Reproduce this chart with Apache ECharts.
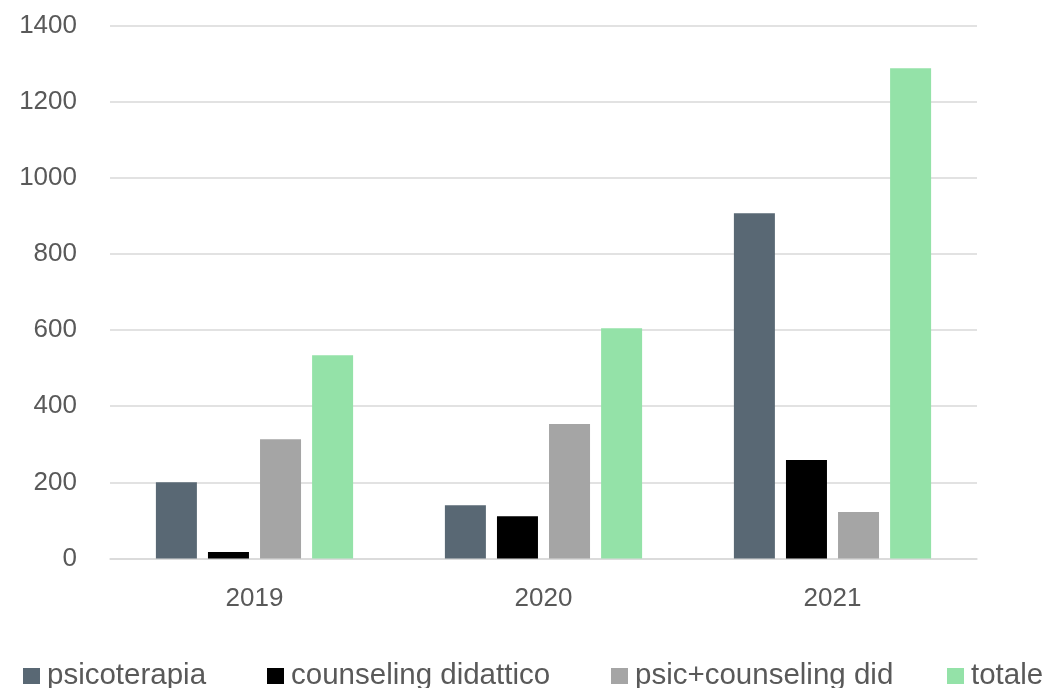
<!DOCTYPE html>
<html><head><meta charset="utf-8">
<script src="https://cdn.jsdelivr.net/npm/echarts@6/dist/echarts.min.js"></script>
<style>html,body{margin:0;padding:0;background:#fff}#c{width:1056px;height:688px}</style>
</head><body><div id="c"></div>
<script>
const categories = ['2019', '2020', '2021'];
const seriesNames = ['psicoterapia', 'counseling didattico', 'psic+counseling did', 'totale'];
const psicoterapia = [200, 140, 907];
const counselingDidattico = [17, 111, 259];
const psicCounselingDid = [313, 353, 122];
const totale = [534, 605, 1288];
const yTicks = [0, 200, 400, 600, 800, 1000, 1200, 1400];

const font = "'Liberation Sans', sans-serif";
const chart = echarts.init(document.getElementById('c'), null, {renderer: 'canvas'});
const mk = (name, data, color) => ({
  name, type: 'bar', data, barWidth: 41, barGap: '27%',
  itemStyle: {color}, animation: false
});
const legendLefts = [23, 267, 611, 947];
const legends = seriesNames.map((n, i) => ({
  left: legendLefts[i], top: 657, padding: 0, itemWidth: 17, itemHeight: 16, icon: 'rect',
  textStyle: {fontFamily: font, fontSize: 29.5, lineHeight: 34, color: '#595959', padding: [0, 0, 4, 2]},
  data: [n]
}));
chart.setOption({
  animation: false,
  grid: {left: 110, right: 79, top: 25.5, bottom: 129.5, containLabel: false},
  legend: legends,
  xAxis: {
    type: 'category', data: categories,
    axisLine: {lineStyle: {color: '#d9d9d9', width: 1.5}},
    axisTick: {show: false},
    axisLabel: {fontFamily: font, fontSize: 26, color: '#595959', margin: 27}
  },
  yAxis: {
    type: 'value', min: yTicks[0], max: yTicks[yTicks.length - 1], interval: 200,
    axisLine: {show: false}, axisTick: {show: false},
    splitLine: {lineStyle: {color: '#d9d9d9', width: 1.5}},
    axisLabel: {fontFamily: font, fontSize: 26, color: '#595959', margin: 33,
      padding: [0, 0, 6, 0], formatter: v => String(v)}
  },
  series: [
    mk(seriesNames[0], psicoterapia, '#596874'),
    mk(seriesNames[1], counselingDidattico, '#000000'),
    mk(seriesNames[2], psicCounselingDid, '#a5a5a5'),
    mk(seriesNames[3], totale, '#94e2a8')
  ]
});
</script></body></html>
